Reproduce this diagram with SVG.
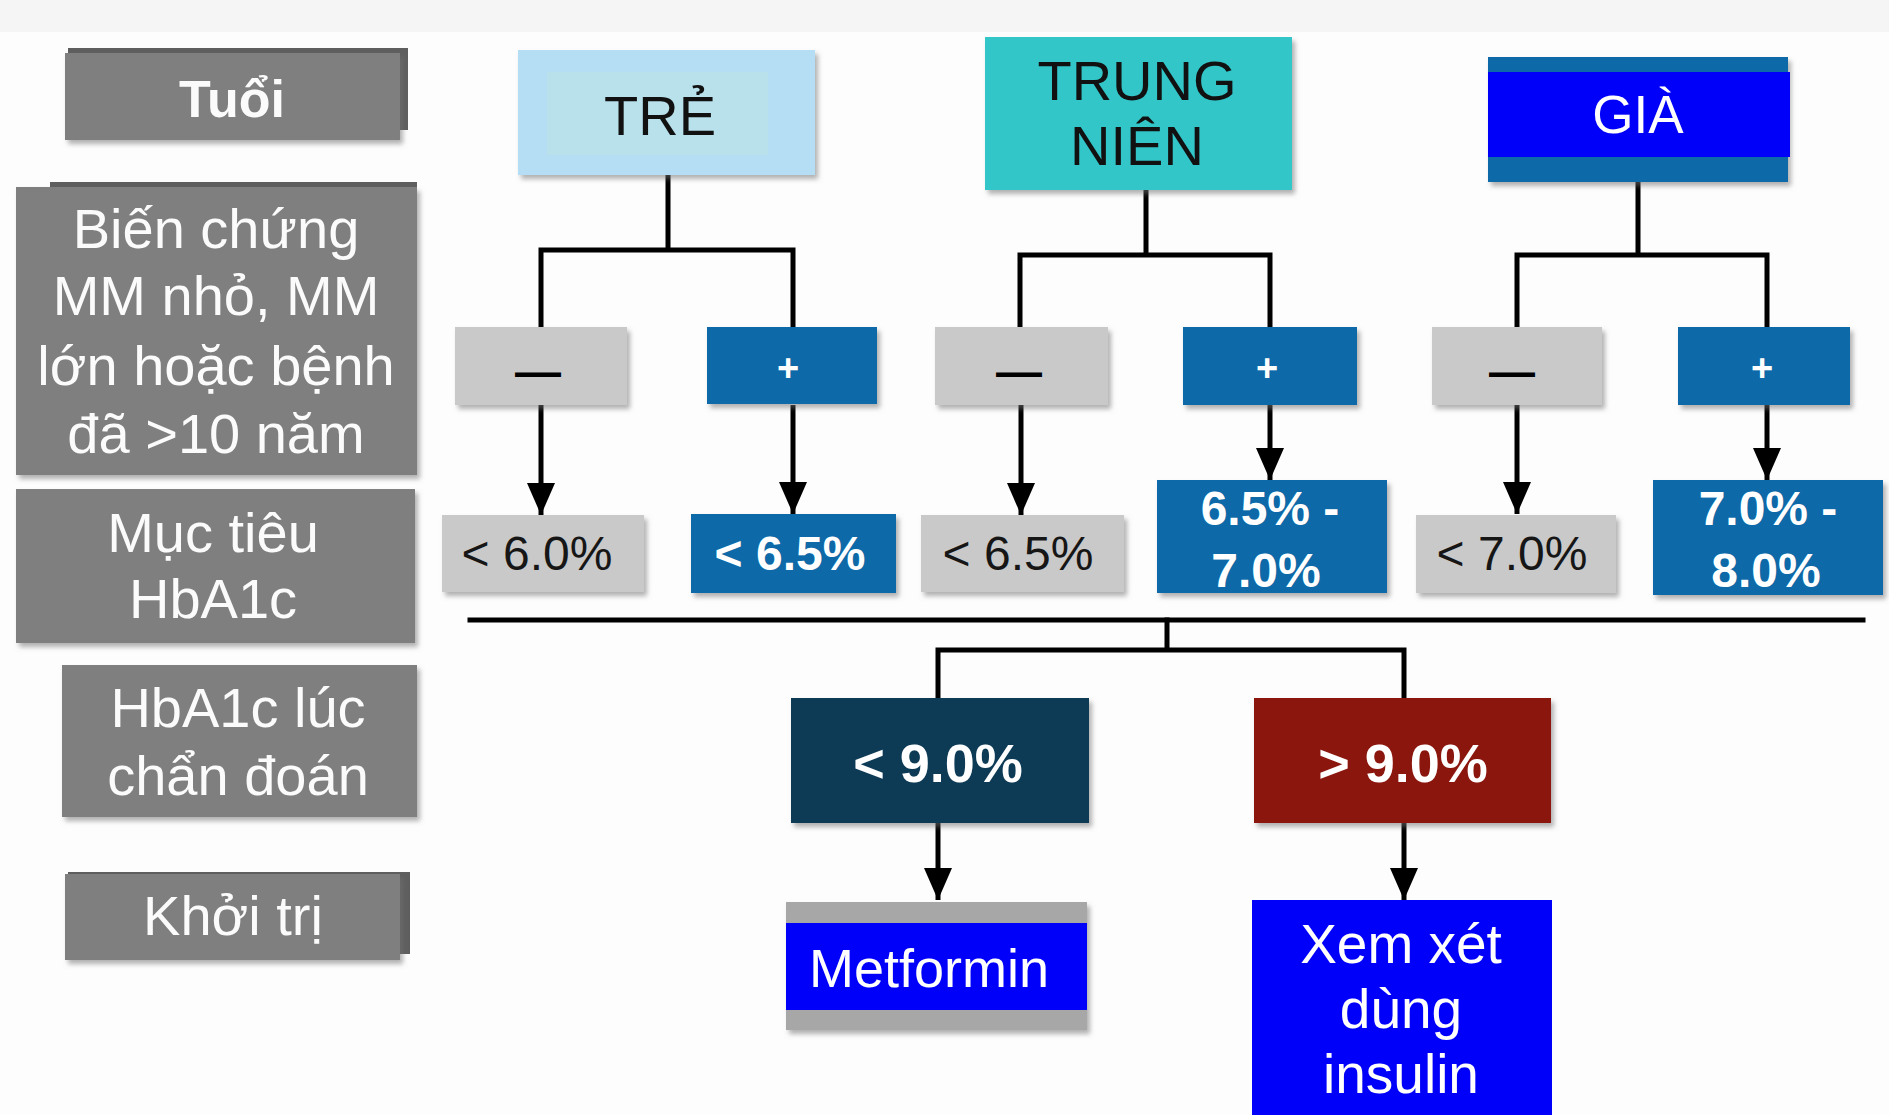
<svg xmlns="http://www.w3.org/2000/svg" width="1889" height="1115" viewBox="0 0 1889 1115">
  <defs>
    <filter id="shadow" x="-10%" y="-10%" width="125%" height="130%">
      <feDropShadow dx="3" dy="4" stdDeviation="2.5" flood-color="#707070" flood-opacity="0.55"/>
    </filter>
    <marker id="arrow" markerUnits="userSpaceOnUse" markerWidth="32" markerHeight="28" refX="32" refY="14" orient="auto">
      <path d="M0,0 L32,14 L0,28 z" fill="#000"/>
    </marker>
    <style>
      text { font-family: "Liberation Sans", Arial, sans-serif; text-anchor: middle; }
      .label { fill: #7f7f7f; }
      .label-edge { fill: #5e5e5e; }
      .label-text { fill: #fbfbfb; font-size: 56px; }
      .neg { fill: #c9c9c9; }
      .pos { fill: #0c69a7; }
      .dash { fill: #000; font-size: 46px; font-weight: bold; }
      .plus { fill: #fff; font-size: 38px; font-weight: bold; }
      .val-dark { fill: #161616; font-size: 48px; }
      .val-light { fill: #fff; font-size: 48px; font-weight: bold; }
      .wire { fill: none; stroke: #000; stroke-width: 5; stroke-linecap: square; }
      .arrow { fill: none; stroke: #000; stroke-width: 5; marker-end: url(#arrow); }
    </style>
  </defs>

  <rect width="1889" height="1115" fill="#fdfdfd"/>
  <rect width="1889" height="32" fill="#f5f5f5"/>

  <!-- row labels on the left -->
  <g id="row-tuoi">
    <rect class="label-edge" x="68" y="48" width="340" height="82"/>
    <rect class="label" x="65" y="53" width="335" height="87" filter="url(#shadow)"/>
    <text class="label-text" x="232" y="117" style="font-size:52px;font-weight:bold">Tuổi</text>
  </g>
  <g id="row-bienchung">
    <rect class="label-edge" x="50" y="182" width="367" height="290"/>
    <rect class="label" x="16" y="187" width="401" height="288" filter="url(#shadow)"/>
    <text class="label-text" x="216" y="248">Biến chứng</text>
    <text class="label-text" x="216" y="315">MM nhỏ, MM</text>
    <text class="label-text" x="216" y="385">lớn hoặc bệnh</text>
    <text class="label-text" x="216" y="453">đã &gt;10 năm</text>
  </g>
  <g id="row-muctieu">
    <rect class="label" x="16" y="489" width="399" height="154" filter="url(#shadow)"/>
    <text class="label-text" x="213" y="552">Mục tiêu</text>
    <text class="label-text" x="213" y="618">HbA1c</text>
  </g>
  <g id="row-chandoan">
    <rect class="label" x="62" y="665" width="355" height="152" filter="url(#shadow)"/>
    <text class="label-text" x="238" y="727">HbA1c lúc</text>
    <text class="label-text" x="238" y="795">chẩn đoán</text>
  </g>
  <g id="row-khoitri">
    <rect class="label-edge" x="68" y="872" width="342" height="82"/>
    <rect class="label" x="65" y="874" width="335" height="86" filter="url(#shadow)"/>
    <text class="label-text" x="233" y="935">Khởi trị</text>
  </g>

  <!-- connectors -->
  <g id="connectors">
    <path class="wire" d="M668,175 V250 M541,250 H793 M541,250 V327 M793,250 V327"/>
    <path class="wire" d="M1146,190 V255 M1020,255 H1270 M1020,255 V327 M1270,255 V327"/>
    <path class="wire" d="M1638,182 V255 M1517,255 H1767 M1517,255 V327 M1767,255 V327"/>
    <line class="arrow" x1="541" y1="405" x2="541" y2="515"/>
    <line class="arrow" x1="793" y1="405" x2="793" y2="514"/>
    <line class="arrow" x1="1021" y1="405" x2="1021" y2="515"/>
    <line class="arrow" x1="1270" y1="405" x2="1270" y2="480"/>
    <line class="arrow" x1="1517" y1="405" x2="1517" y2="514"/>
    <line class="arrow" x1="1767" y1="405" x2="1767" y2="480"/>
    <path class="wire" d="M470,620 H1863"/>
    <path class="wire" d="M1167,620 V650 M938,650 H1404 M938,650 V698 M1404,650 V698"/>
    <line class="arrow" x1="938" y1="823" x2="938" y2="900"/>
    <line class="arrow" x1="1404" y1="823" x2="1404" y2="900"/>
  </g>

  <!-- age groups -->
  <g id="age-tre">
    <rect x="518" y="50" width="297" height="125" fill="#b5def5" filter="url(#shadow)"/>
    <rect x="547" y="72" width="221" height="83" fill="#b8e1ec"/>
    <text x="660" y="135" style="font-size:56px;fill:#111">TRẺ</text>
  </g>
  <g id="age-trungnien">
    <rect x="985" y="37" width="307" height="153" fill="#33c6c9" filter="url(#shadow)"/>
    <text x="1137" y="100" style="font-size:56px;fill:#111">TRUNG</text>
    <text x="1137" y="165" style="font-size:56px;fill:#111">NIÊN</text>
  </g>
  <g id="age-gia">
    <rect x="1488" y="57" width="300" height="125" fill="#0c69a7" filter="url(#shadow)"/>
    <rect x="1488" y="72" width="302" height="85" fill="#0000fa"/>
    <text x="1638" y="133" style="font-size:53px;fill:#fff">GIÀ</text>
  </g>

  <!-- complication branches -->
  <g id="tre-neg">
    <rect class="neg" x="455" y="327" width="172" height="78" filter="url(#shadow)"/>
    <text class="dash" x="538" y="387">—</text>
  </g>
  <g id="tre-pos">
    <rect class="pos" x="707" y="327" width="170" height="77" filter="url(#shadow)"/>
    <text class="plus" x="788" y="381">+</text>
  </g>
  <g id="trungnien-neg">
    <rect class="neg" x="935" y="327" width="173" height="78" filter="url(#shadow)"/>
    <text class="dash" x="1019" y="387">—</text>
  </g>
  <g id="trungnien-pos">
    <rect class="pos" x="1183" y="327" width="174" height="78" filter="url(#shadow)"/>
    <text class="plus" x="1267" y="381">+</text>
  </g>
  <g id="gia-neg">
    <rect class="neg" x="1432" y="327" width="170" height="78" filter="url(#shadow)"/>
    <text class="dash" x="1512" y="387">—</text>
  </g>
  <g id="gia-pos">
    <rect class="pos" x="1678" y="327" width="172" height="78" filter="url(#shadow)"/>
    <text class="plus" x="1762" y="381">+</text>
  </g>

  <!-- HbA1c targets -->
  <g id="target-tre-neg">
    <rect class="neg" x="442" y="515" width="202" height="77" filter="url(#shadow)"/>
    <text class="val-dark" x="537" y="570">&lt; 6.0%</text>
  </g>
  <g id="target-tre-pos">
    <rect class="pos" x="691" y="514" width="205" height="79" filter="url(#shadow)"/>
    <text class="val-light" x="790" y="570">&lt; 6.5%</text>
  </g>
  <g id="target-trungnien-neg">
    <rect class="neg" x="921" y="515" width="203" height="77" filter="url(#shadow)"/>
    <text class="val-dark" x="1018" y="570">&lt; 6.5%</text>
  </g>
  <g id="target-trungnien-pos">
    <rect class="pos" x="1157" y="480" width="230" height="113" filter="url(#shadow)"/>
    <text class="val-light" x="1270" y="525">6.5% -</text>
    <text class="val-light" x="1266" y="587">7.0%</text>
  </g>
  <g id="target-gia-neg">
    <rect class="neg" x="1416" y="515" width="200" height="78" filter="url(#shadow)"/>
    <text class="val-dark" x="1512" y="570">&lt; 7.0%</text>
  </g>
  <g id="target-gia-pos">
    <rect class="pos" x="1653" y="480" width="230" height="115" filter="url(#shadow)"/>
    <text class="val-light" x="1768" y="525">7.0% -</text>
    <text class="val-light" x="1766" y="587">8.0%</text>
  </g>

  <!-- HbA1c at diagnosis -->
  <g id="diag-low">
    <rect x="791" y="698" width="298" height="125" fill="#0f3a57" filter="url(#shadow)"/>
    <text x="938" y="782" style="font-size:54px;font-weight:bold;fill:#fff">&lt; 9.0%</text>
  </g>
  <g id="diag-high">
    <rect x="1254" y="698" width="297" height="125" fill="#8a170a" filter="url(#shadow)"/>
    <text x="1403" y="782" style="font-size:54px;font-weight:bold;fill:#fff">&gt; 9.0%</text>
  </g>

  <!-- initial treatment -->
  <g id="treat-metformin">
    <rect x="786" y="902" width="301" height="128" fill="#a7a7a7" filter="url(#shadow)"/>
    <rect x="786" y="923" width="301" height="87" fill="#0000fa"/>
    <text x="929" y="987" style="font-size:54px;fill:#fff">Metformin</text>
  </g>
  <g id="treat-insulin">
    <rect x="1252" y="900" width="300" height="230" fill="#0000fa"/>
    <text x="1401" y="963" style="font-size:55px;fill:#fff">Xem xét</text>
    <text x="1401" y="1028" style="font-size:55px;fill:#fff">dùng</text>
    <text x="1401" y="1093" style="font-size:55px;fill:#fff">insulin</text>
  </g>
</svg>
